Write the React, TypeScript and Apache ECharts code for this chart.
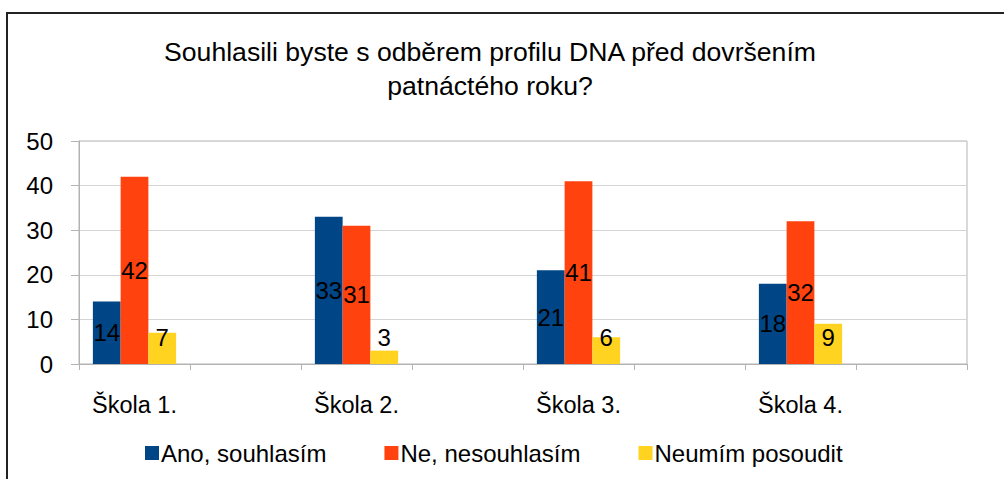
import React, { useEffect, useRef } from "react";
import * as echarts from "echarts";

const categories = ["Škola 1.", "", "Škola 2.", "", "Škola 3.", "", "Škola 4.", ""];
const seriesNames = ["Ano, souhlasím", "Ne, nesouhlasím", "Neumím posoudit"];
const anoValues = [14, null, 33, null, 21, null, 18, null];
const neValues = [42, null, 31, null, 41, null, 32, null];
const neumimValues = [7, null, 3, null, 6, null, 9, null];
const colors = ["#004586", "#ff420e", "#ffd320"];
const yTicks = { min: 0, max: 50, interval: 10 };
const titleText = "Souhlasili byste s odběrem profilu DNA před dovršením\npatnáctého roku?";

const FONT = "'Liberation Sans', Arial, sans-serif";

function toData(values: (number | null)[]) {
  return values.map((v) => {
    if (v === null) return null;
    if (v < 12) {
      return { value: v, label: { position: "insideBottom", distance: 15 } };
    }
    return v;
  });
}

export default function App() {
  const ref = useRef<HTMLDivElement>(null);

  useEffect(() => {
    if (!ref.current) return;
    const chart = echarts.init(ref.current, null, { renderer: "svg" });
    const allValues = [anoValues, neValues, neumimValues];
    chart.setOption({
      animation: false,
      backgroundColor: "#ffffff",
      title: {
        text: titleText,
        left: 485,
        textAlign: "center",
        top: 30,
        textStyle: {
          fontFamily: FONT,
          fontSize: 26.6,
          fontWeight: "normal",
          color: "#000",
          lineHeight: 34,
        },
      },
      legend: {
        left: 140,
        top: 436,
        itemWidth: 14,
        itemHeight: 14,
        itemGap: 58,
        icon: "rect",
        textStyle: { fontFamily: FONT, fontSize: 24, color: "#000", padding: [0, 0, 0, -3] },
        data: seriesNames,
      },
      grid: {
        left: 79,
        right: 37,
        top: 141,
        bottom: 115,
        show: true,
        borderColor: "#b3b3b3",
        borderWidth: 1,
      },
      xAxis: {
        type: "category",
        data: categories,
        axisLine: { lineStyle: { color: "#b3b3b3" } },
        axisTick: { show: true, length: 6, interval: 0, lineStyle: { color: "#b3b3b3" } },
        axisLabel: {
          interval: 0,
          margin: 29,
          fontFamily: FONT,
          fontSize: 23.5,
          color: "#000",
        },
      },
      yAxis: {
        type: "value",
        min: yTicks.min,
        max: yTicks.max,
        interval: yTicks.interval,
        axisLine: { show: true, lineStyle: { color: "#b3b3b3" } },
        axisTick: { show: true, length: 8, lineStyle: { color: "#b3b3b3" } },
        axisLabel: { margin: 26, fontFamily: FONT, fontSize: 24, color: "#000" },
        splitLine: { lineStyle: { color: "#d4d4d4" } },
      },
      series: seriesNames.map((name, i) => ({
        name,
        type: "bar",
        data: toData(allValues[i]),
        barWidth: "25%",
        barGap: "0%",
        itemStyle: { color: colors[i] },
        label: {
          show: true,
          position: "inside",
          fontFamily: FONT,
          fontSize: 24,
          color: "#000",
        },
      })),
      graphic: [
        {
          type: "rect",
          shape: { x: 7, y: 13, width: 1200, height: 700 },
          style: { fill: "none", stroke: "#222", lineWidth: 2 },
          silent: true,
        },
      ],
    });
    return () => chart.dispose();
  }, []);

  return (
    <div
      ref={ref}
      style={{ position: "fixed", left: 0, top: 0, width: 1004, height: 479 }}
    />
  );
}
